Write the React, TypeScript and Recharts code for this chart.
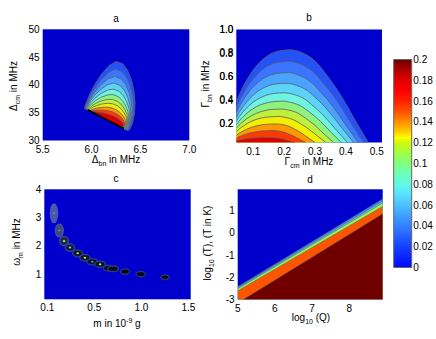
import type { ReactNode } from "react";
import {
  Area,
  Bar,
  BarChart,
  CartesianGrid,
  ComposedChart,
  ReferenceArea,
  Scatter,
  XAxis,
  YAxis,
} from "recharts";

// Four contour panels (a-d) plus a shared jet colour bar. Each panel is its own
// full-page chart whose margins put the plot box where the reference has it.

type Pt = [number, number];
type Box = { l: number; t: number; r: number; b: number };

const W = 436;
const H = 339;
const Y_W = 30;
const X_H = 20;
const FONT = '"Liberation Sans", Arial, Helvetica, sans-serif';
const BG = "#0000cc";
const EDGE = "#4a4a4a";
const CONTOUR = "#5c5c6c";

// filled contour colours, outermost (lowest) level first
const BAND = [
  "#2452f5",
  "#3a74ff",
  "#4aa4ff",
  "#5cd4f8",
  "#6ef4e0",
  "#8ef27e",
  "#bef03c",
  "#f4ee00",
  "#ff9800",
  "#ff3a00",
  "#dc0000",
];

// ---- panel a: Δcm vs Δbn ----
const A_X_TICKS = [5.5, 6, 6.5, 7];
const A_Y_TICKS = [30, 35, 40, 45, 50];
const A_LEVELS: Pt[][] = [
  [[5.925, 35.85], [5.95, 37.0], [5.98, 38.3], [6.03, 40.0], [6.1, 41.9], [6.18, 43.5], [6.25, 44.2], [6.32, 43.8], [6.37, 42.6], [6.41, 40.8], [6.435, 38.8], [6.445, 36.8], [6.44, 34.9], [6.42, 33.2], [6.395, 32.1], [6.375, 31.75]],
  [[5.93, 35.8], [5.954, 36.79], [5.983, 37.89], [6.031, 39.34], [6.099, 40.93], [6.175, 42.26], [6.243, 42.8], [6.31, 42.4], [6.358, 41.31], [6.397, 39.71], [6.421, 37.95], [6.43, 36.21], [6.425, 34.52], [6.406, 33.09], [6.382, 32.15], [6.363, 31.86]],
  [[5.935, 35.76], [5.958, 36.59], [5.986, 37.51], [6.032, 38.71], [6.097, 40.03], [6.17, 41.11], [6.235, 41.51], [6.3, 41.1], [6.346, 40.12], [6.383, 38.71], [6.406, 37.17], [6.415, 35.67], [6.41, 34.22], [6.392, 33.0], [6.369, 32.21], [6.35, 31.98]],
  [[5.94, 35.71], [5.962, 36.39], [5.989, 37.16], [6.033, 38.14], [6.095, 39.2], [6.165, 40.06], [6.228, 40.33], [6.29, 39.92], [6.334, 39.04], [6.369, 37.81], [6.391, 36.47], [6.4, 35.18], [6.395, 33.94], [6.378, 32.92], [6.356, 32.27], [6.338, 32.09]],
  [[5.945, 35.67], [5.966, 36.23], [5.992, 36.83], [6.035, 37.61], [6.095, 38.43], [6.163, 39.07], [6.223, 39.25], [6.283, 38.83], [6.326, 38.03], [6.36, 36.95], [6.382, 35.79], [6.39, 34.7], [6.386, 33.66], [6.369, 32.81], [6.347, 32.3], [6.33, 32.16]],
  [[5.95, 35.62], [5.971, 36.05], [5.996, 36.53], [6.037, 37.13], [6.095, 37.74], [6.161, 38.19], [6.219, 38.27], [6.277, 37.85], [6.318, 37.13], [6.351, 36.19], [6.372, 35.2], [6.38, 34.28], [6.376, 33.42], [6.359, 32.74], [6.339, 32.32], [6.322, 32.24]],
  [[5.96, 35.53], [5.98, 35.86], [6.003, 36.23], [6.043, 36.67], [6.098, 37.11], [6.161, 37.39], [6.216, 37.38], [6.272, 36.96], [6.311, 36.34], [6.343, 35.52], [6.362, 34.68], [6.37, 33.91], [6.366, 33.21], [6.35, 32.67], [6.331, 32.36], [6.315, 32.3]],
  [[5.97, 35.44], [5.989, 35.68], [6.011, 35.96], [6.049, 36.25], [6.101, 36.55], [6.161, 36.69], [6.214, 36.61], [6.266, 36.22], [6.304, 35.64], [6.334, 34.94], [6.353, 34.24], [6.36, 33.6], [6.356, 33.04], [6.341, 32.62], [6.323, 32.39], [6.307, 32.37]],
  [[5.98, 35.35], [5.998, 35.51], [6.019, 35.68], [6.055, 35.85], [6.105, 35.97], [6.161, 36.0], [6.211, 35.85], [6.261, 35.45], [6.297, 34.95], [6.325, 34.37], [6.343, 33.8], [6.35, 33.29], [6.346, 32.87], [6.332, 32.58], [6.314, 32.43], [6.3, 32.44]],
  [[5.99, 35.26], [6.007, 35.33], [6.027, 35.42], [6.061, 35.48], [6.108, 35.49], [6.162, 35.39], [6.209, 35.19], [6.256, 34.8], [6.29, 34.37], [6.317, 33.87], [6.333, 33.43], [6.34, 33.04], [6.337, 32.73], [6.323, 32.55], [6.306, 32.47], [6.293, 32.5]],
  [[6.0, 35.17], [6.016, 35.17], [6.035, 35.17], [6.067, 35.12], [6.111, 35.0], [6.162, 34.79], [6.206, 34.53], [6.251, 34.15], [6.282, 33.79], [6.308, 33.39], [6.324, 33.06], [6.33, 32.79], [6.327, 32.6], [6.314, 32.51], [6.298, 32.52], [6.285, 32.57]],
];
// where the contours pile up along the lower edge of the region
const A_RIDGE: Pt[] = [[5.96, 35.5], [6.33, 32.16]];

// ---- panel b: Γbn vs Γcm ----
const B_X_TICKS = [0.1, 0.2, 0.3, 0.4, 0.5];
const B_Y_TICKS = [0.2, 0.4, 0.6, 0.8, 1.0];
const B_Y_LABELS = ["0.2", "0.4", "0.6", "0.8", "1.0"];
const B_Y_DOMAIN: [number, number] = [0.04, 1];
const B_LEVELS: Pt[][] = [
  [[0.045, 0.38], [0.0555, 0.452], [0.0695, 0.528], [0.0905, 0.622], [0.1203, 0.72], [0.15, 0.783], [0.185, 0.819], [0.22, 0.828], [0.2605, 0.8], [0.301, 0.73], [0.339, 0.61], [0.369, 0.5], [0.4, 0.37], [0.43, 0.23], [0.455, 0.119], [0.473, 0.04]],
  [[0.045, 0.33], [0.0552, 0.394], [0.0688, 0.462], [0.0892, 0.545], [0.1181, 0.633], [0.147, 0.689], [0.181, 0.721], [0.215, 0.729], [0.2537, 0.704], [0.2924, 0.644], [0.3287, 0.538], [0.3578, 0.442], [0.3868, 0.329], [0.4159, 0.206], [0.4401, 0.109], [0.457, 0.04]],
  [[0.045, 0.29], [0.0549, 0.345], [0.0681, 0.404], [0.0879, 0.476], [0.116, 0.551], [0.144, 0.6], [0.177, 0.627], [0.21, 0.634], [0.2468, 0.613], [0.2836, 0.56], [0.3181, 0.469], [0.3457, 0.387], [0.3733, 0.289], [0.4009, 0.183], [0.4239, 0.099], [0.44, 0.04]],
  [[0.045, 0.25], [0.0546, 0.297], [0.0674, 0.347], [0.0866, 0.408], [0.1138, 0.473], [0.141, 0.514], [0.173, 0.537], [0.205, 0.543], [0.2402, 0.525], [0.2754, 0.481], [0.3084, 0.404], [0.3348, 0.334], [0.3612, 0.251], [0.3876, 0.161], [0.4096, 0.09], [0.425, 0.04]],
  [[0.045, 0.22], [0.0543, 0.259], [0.0667, 0.3], [0.0853, 0.351], [0.1117, 0.404], [0.138, 0.438], [0.169, 0.457], [0.2, 0.462], [0.2328, 0.447], [0.2656, 0.41], [0.2964, 0.345], [0.321, 0.286], [0.3456, 0.217], [0.3702, 0.142], [0.3907, 0.082], [0.405, 0.04]],
  [[0.045, 0.19], [0.054, 0.222], [0.066, 0.256], [0.084, 0.299], [0.1095, 0.343], [0.135, 0.371], [0.165, 0.387], [0.195, 0.391], [0.2254, 0.378], [0.2558, 0.347], [0.2843, 0.294], [0.3071, 0.245], [0.3299, 0.187], [0.3527, 0.125], [0.3717, 0.075], [0.385, 0.04]],
  [[0.045, 0.16], [0.0537, 0.186], [0.0653, 0.214], [0.0827, 0.249], [0.1074, 0.285], [0.132, 0.308], [0.161, 0.321], [0.19, 0.324], [0.2172, 0.314], [0.2444, 0.289], [0.2699, 0.245], [0.2903, 0.206], [0.3107, 0.159], [0.3311, 0.108], [0.3481, 0.068], [0.36, 0.04]],
  [[0.045, 0.13], [0.0531, 0.151], [0.0639, 0.173], [0.0801, 0.201], [0.1031, 0.23], [0.126, 0.248], [0.153, 0.258], [0.18, 0.261], [0.2048, 0.253], [0.2296, 0.234], [0.2529, 0.2], [0.2715, 0.169], [0.29, 0.133], [0.3087, 0.093], [0.3242, 0.062], [0.335, 0.04]],
  [[0.045, 0.1], [0.0528, 0.116], [0.0632, 0.132], [0.0788, 0.153], [0.1009, 0.174], [0.123, 0.188], [0.149, 0.196], [0.175, 0.198], [0.195, 0.192], [0.215, 0.178], [0.2338, 0.154], [0.2488, 0.132], [0.2638, 0.106], [0.2788, 0.078], [0.2913, 0.056], [0.3, 0.04]],
  [[0.045, 0.075], [0.0522, 0.086], [0.0618, 0.097], [0.0762, 0.111], [0.0966, 0.125], [0.117, 0.134], [0.141, 0.14], [0.165, 0.141], [0.1818, 0.137], [0.1986, 0.128], [0.2144, 0.113], [0.227, 0.099], [0.2396, 0.082], [0.2522, 0.064], [0.2627, 0.05], [0.27, 0.04]],
  [[0.045, 0.055], [0.0516, 0.059], [0.0604, 0.064], [0.0736, 0.07], [0.0923, 0.076], [0.111, 0.08], [0.133, 0.082], [0.155, 0.083], [0.1678, 0.081], [0.1806, 0.078], [0.1926, 0.071], [0.2022, 0.065], [0.2118, 0.058], [0.2214, 0.05], [0.2294, 0.044], [0.235, 0.04]],
];

// ---- panel c: ωm vs m (tick labels are not evenly spaced values) ----
const C_X_TICKS = [0, 0.5, 1, 1.5];
const C_X_LABELS = ["0.1", "0.5", "1.0", "1.5"];
const C_Y_TICKS = [1, 2, 3, 4];
const C_M = [0.071, 0.128, 0.178, 0.241, 0.323, 0.4, 0.479, 0.561, 0.649, 0.7, 0.827, 0.994, 1.252];
const C_OMEGA = [3.15, 2.54, 2.17, 1.94, 1.74, 1.58, 1.44, 1.35, 1.21, 1.19, 1.09, 1.0, 0.89];

// ---- panel d: log10 T vs log10 Q, straight bands ----
const D_X_TICKS = [5, 6, 7, 8];
const D_Y_TICKS = [-3, -2, -1, 0, 1];
const D_EDGES: Pt[][] = [
  [[5, -2.42], [8.9, 1.52]],
  [[5, -2.47], [8.9, 1.42]],
  [[5, -2.51], [8.9, 1.34]],
  [[5, -2.61], [8.9, 1.18]],
  [[5.15, -3], [8.9, 0.85]],
];
const D_COLORS = ["#3c8cff", "#5ad2ff", "#9cf548", "#ff5400", "#700000"];

// ---- colour bar ----
const CB_MAX = 0.2;
const CB_TICKS = [0, 0.02, 0.04, 0.06, 0.08, 0.1, 0.12, 0.14, 0.16, 0.18, 0.2];
const JET: [number, string][] = [
  [0, "#0008ff"], [0.05, "#0a24ff"], [0.1, "#1440ff"], [0.15, "#2460ff"], [0.2, "#3282ff"],
  [0.25, "#3ea0ff"], [0.3, "#4cc0ff"], [0.35, "#58e0ff"], [0.4, "#60f8e8"], [0.45, "#6cffb8"],
  [0.5, "#80ff80"], [0.55, "#a0ff40"], [0.6, "#d0f810"], [0.625, "#ffff00"], [0.65, "#ffd000"],
  [0.7, "#ff9000"], [0.75, "#ff5000"], [0.8, "#ff2000"], [0.85, "#ff0000"], [0.9, "#e00000"],
  [0.95, "#b00000"], [1, "#680000"],
];

// blob looks for panel c, same order as C_M
const C_BLOB = [
  { rx: 3.3, ry: 9, fill: "#4e5aa4", ring: "#6a74b0", dot: "#6a78e0" },
  { rx: 3.6, ry: 6, fill: "#44496e", ring: "#626a96", dot: "#4080ff" },
  { rx: 4, ry: 4.2, fill: "#24273c", ring: "#555c84", dot: "#70ff90" },
  { rx: 4.2, ry: 3.4, fill: "#181a28", ring: "#4a5078", dot: "#50e0ff" },
  { rx: 4.6, ry: 3, fill: "#121320", ring: "#454a70", dot: "#80ff60" },
  { rx: 4.8, ry: 2.9, fill: "#121320", ring: "#454a70", dot: "#90ff70" },
  { rx: 5, ry: 2.8, fill: "#0e0f18", ring: "#40456a", dot: "#3a8aff" },
  { rx: 5, ry: 2.7, fill: "#0e0f18", ring: "#40456a", dot: "#90ff70" },
  { rx: 4.5, ry: 2.6, fill: "#0b0c12", ring: "#3c4064", dot: "" },
  { rx: 5, ry: 2.6, fill: "#0b0c12", ring: "#3c4064", dot: "" },
  { rx: 4.2, ry: 2.4, fill: "#08080c", ring: "#383c5c", dot: "" },
  { rx: 4.4, ry: 2.3, fill: "#08080c", ring: "#383c5c", dot: "" },
  { rx: 3.8, ry: 2.1, fill: "#08080c", ring: "#383c5c", dot: "" },
];

const BOX_A: Box = { l: 42.7, t: 29.3, r: 189.3, b: 140.5 };
const BOX_B: Box = { l: 236.3, t: 29.5, r: 382, b: 142.5 };
const BOX_C: Box = { l: 44.3, t: 189.3, r: 190.7, b: 299.3 };
const BOX_D: Box = { l: 237.7, t: 189.3, r: 382.7, b: 299.6 };
const BOX_CB: Box = { l: 393.7, t: 59.5, r: 411.3, b: 267.5 };

const TICK = { fill: "#000", fontSize: 10 };
const toPts = (pts: Pt[]) => pts.map(([x, y]) => ({ x, y }));
const NoDot = () => <g />;
const oneDecimal = (v: number | string) => Number(v).toFixed(1);

const frameMargin = (box: Box) => ({ top: box.t, left: box.l - Y_W, right: W - box.r, bottom: H - box.b - X_H });

function Frame({
  box,
  xDomain,
  yDomain,
  xTicks,
  yTicks,
  xFormat,
  yFormat,
  children,
}: {
  box: Box;
  xDomain: [number, number];
  yDomain: [number, number];
  xTicks: number[];
  yTicks: number[];
  xFormat?: (v: number, i: number) => string;
  yFormat?: (v: number, i: number) => string;
  children: ReactNode;
}) {
  return (
    <div style={{ position: "absolute", left: 0, top: 0 }}>
      <ComposedChart width={W} height={H} margin={frameMargin(box)}>
        <CartesianGrid horizontal={false} vertical={false} fill={BG} fillOpacity={1} stroke="none" />
        <XAxis
          type="number"
          dataKey="x"
          domain={xDomain}
          ticks={xTicks}
          interval={0}
          allowDataOverflow
          height={X_H}
          axisLine={false}
          tickLine={false}
          tickSize={0}
          tickMargin={5}
          tick={TICK}
          tickFormatter={xFormat}
        />
        <YAxis
          type="number"
          dataKey="y"
          domain={yDomain}
          ticks={yTicks}
          interval={0}
          allowDataOverflow
          width={Y_W}
          axisLine={false}
          tickLine={false}
          tickSize={0}
          tickMargin={3}
          tick={TICK}
          tickFormatter={yFormat}
        />
        {children}
        <ReferenceArea fill="none" stroke={EDGE} strokeWidth={1} />
      </ComposedChart>
    </div>
  );
}

function BlobShape(props: any) {
  const { cx, cy, payload } = props;
  const s = C_BLOB[payload.k];
  return (
    <g>
      <ellipse cx={cx} cy={cy} rx={s.rx + 1} ry={s.ry + 1} fill={s.ring} opacity={0.8} />
      <ellipse cx={cx} cy={cy} rx={s.rx} ry={s.ry} fill={s.fill} stroke="#3048d8" strokeWidth={0.5} />
      {s.dot && <ellipse cx={cx} cy={cy} rx={1.3} ry={1} fill={s.dot} />}
    </g>
  );
}

function Sub({ children }: { children: ReactNode }) {
  return <span style={{ fontSize: 7, position: "relative", top: 3 }}>{children}</span>;
}
function Sup({ children }: { children: ReactNode }) {
  return <span style={{ fontSize: 7, position: "relative", top: -4 }}>{children}</span>;
}

function Txt({
  x,
  y,
  rotate,
  alignRight,
  children,
}: {
  x: number;
  y: number;
  rotate?: boolean;
  alignRight?: boolean;
  children: ReactNode;
}) {
  return (
    <div
      style={{
        position: "absolute",
        left: x,
        top: y,
        transform: `translate(${alignRight ? "-100%" : "-50%"}, -50%)${rotate ? " rotate(-90deg)" : ""}`,
        whiteSpace: "nowrap",
        fontSize: 10,
        lineHeight: 1,
        color: "#000",
        zIndex: 5,
      }}
    >
      {children}
    </div>
  );
}

// panel b's y tick labels, laid along the same linear span as its y axis
function BYTickLabels() {
  const [lo, hi] = B_Y_DOMAIN;
  const span = BOX_B.b - BOX_B.t;
  return (
    <>
      {B_Y_TICKS.map((v, i) => (
        <Txt key={i} x={BOX_B.l - 3} y={BOX_B.t + ((hi - v) / (hi - lo)) * span} alignRight>
          {B_Y_LABELS[i]}
        </Txt>
      ))}
    </>
  );
}

export default function App() {
  const blobs = C_M.map((m, k) => ({ x: m, y: C_OMEGA[k], k }));
  return (
    <div style={{ position: "absolute", left: 0, top: 0, width: W, height: H, background: "#fff", fontFamily: FONT }}>
      {/* a */}
      <Frame box={BOX_A} xDomain={[5.5, 7]} yDomain={[30, 50]} xTicks={A_X_TICKS} yTicks={A_Y_TICKS} xFormat={oneDecimal}>
        {A_LEVELS.map((pts, i) => (
          <Scatter
            key={i}
            data={toPts(pts)}
            shape={NoDot}
            line={{ fill: BAND[i], stroke: CONTOUR, strokeWidth: 0.8 }}
            lineJointType="linearClosed"
            isAnimationActive={false}
          />
        ))}
        <Scatter
          data={toPts(A_RIDGE)}
          shape={NoDot}
          line={{ fill: "none", stroke: "#000", strokeWidth: 1.8 }}
          isAnimationActive={false}
        />
      </Frame>

      {/* b */}
      <Frame
        box={BOX_B}
        xDomain={[0.045, 0.517]}
        yDomain={B_Y_DOMAIN}
        xTicks={B_X_TICKS}
        yTicks={B_Y_TICKS}
        xFormat={oneDecimal}
        yFormat={oneDecimal}
      >
        {B_LEVELS.map((pts, i) => (
          <Area
            key={i}
            data={toPts(pts)}
            dataKey="y"
            type="monotone"
            baseValue={0.04}
            fill={BAND[i]}
            fillOpacity={1}
            stroke={CONTOUR}
            strokeWidth={0.8}
            isAnimationActive={false}
          />
        ))}
      </Frame>

      {/* c */}
      <Frame
        box={BOX_C}
        xDomain={[-0.032, 1.525]}
        yDomain={[0.11, 4]}
        xTicks={C_X_TICKS}
        yTicks={C_Y_TICKS}
        xFormat={(_v, i) => C_X_LABELS[i]}
      >
        <Scatter data={blobs} shape={BlobShape} isAnimationActive={false} />
      </Frame>

      {/* d */}
      <Frame box={BOX_D} xDomain={[5, 8.9]} yDomain={[-3, 1.95]} xTicks={D_X_TICKS} yTicks={D_Y_TICKS}>
        {D_EDGES.map((pts, i) => (
          <Area
            key={i}
            data={toPts(pts)}
            dataKey="y"
            type="linear"
            baseValue={-3}
            fill={D_COLORS[i]}
            fillOpacity={1}
            stroke={CONTOUR}
            strokeWidth={0.6}
            isAnimationActive={false}
          />
        ))}
      </Frame>

      {/* colour bar */}
      <div style={{ position: "absolute", left: 0, top: 0 }}>
        <BarChart
          width={W}
          height={H}
          data={[{ name: "cb", v: CB_MAX }]}
          margin={{ top: BOX_CB.t, left: BOX_CB.l, right: W - BOX_CB.r - Y_W, bottom: H - BOX_CB.b }}
          barCategoryGap={0}
        >
          <defs>
            <linearGradient id="jet" x1="0" y1="1" x2="0" y2="0">
              {JET.map(([o, c]) => (
                <stop key={o} offset={o} stopColor={c} />
              ))}
            </linearGradient>
          </defs>
          <XAxis dataKey="name" hide />
          <YAxis
            orientation="right"
            type="number"
            domain={[0, CB_MAX]}
            ticks={CB_TICKS}
            interval={0}
            width={Y_W}
            axisLine={false}
            tickLine={false}
            tickSize={0}
            tickMargin={2}
            tick={TICK}
            tickFormatter={(v: number) => String(Math.round(v * 100) / 100)}
          />
          <Bar dataKey="v" fill="url(#jet)" stroke="#666" strokeWidth={1} isAnimationActive={false} />
        </BarChart>
      </div>

      {/* titles and axis labels */}
      <Txt x={116} y={19}>a</Txt>
      <Txt x={309} y={18}>b</Txt>
      <Txt x={116} y={179}>c</Txt>
      <Txt x={310} y={180}>d</Txt>

      <Txt x={116} y={160}>
        Δ<Sub>bn</Sub> in MHz
      </Txt>
      <Txt x={14} y={86} rotate>
        Δ<Sub>cm</Sub> in MHz
      </Txt>
      <Txt x={309} y={162}>
        Γ<Sub>cm</Sub> in MHz
      </Txt>
      <Txt x={206} y={84} rotate>
        Γ<Sub>bn</Sub> in MHz
      </Txt>
      <Txt x={117} y={324}>
        m in 10<Sup>-9</Sup> g
      </Txt>
      <Txt x={17} y={242} rotate>
        ω<Sub>m</Sub> in MHz
      </Txt>
      <Txt x={311} y={318}>
        log<Sub>10</Sub> (Q)
      </Txt>
      <Txt x={208} y={243} rotate>
        log<Sub>10</Sub> (T), (T in K)
      </Txt>

      <BYTickLabels />
    </div>
  );
}
